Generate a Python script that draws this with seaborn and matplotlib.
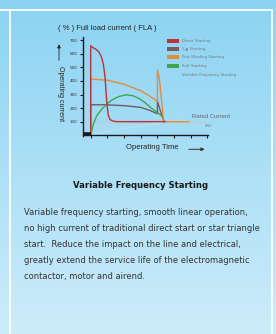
import numpy as np
import pandas as pd
import seaborn as sns
import matplotlib.pyplot as plt
from matplotlib.patches import Rectangle, FancyArrowPatch
from matplotlib.lines import Line2D

W, H = 276, 334
NARROW = ['Liberation Sans', 'DejaVu Sans']

# --- data (time in arbitrary units, current in % FLA) ---
rated_t = [0, 7.03]
rated_i = [100, 100]

vf_t = [0, 1, 2, 3, 4, 4.5, 5, 5.5, 5.9]
vf_i = [0, 28, 50, 70, 88, 100, 108, 110, 100]

star_delta_t = [0, 0, 1, 2, 3, 3.56, 4.0, 4.0, 4.2, 4.4]
star_delta_i = [0, 225, 224, 218, 205, 182, 158, 252, 170, 100]

soft_t = [0, 0.16, 0.36, 0.66, 0.96, 1.26, 1.66, 2.16, 2.56, 2.96, 3.26, 3.56, 3.8, 4.0, 4.2, 4.36]
soft_i = [0, 83, 143, 192, 229, 258, 285, 298, 290, 266, 240, 207, 185, 168, 148, 125]

part_t = [0, 0, 1, 2, 3, 3.56, 4.0, 4.0, 4.12, 4.22, 4.3, 4.36, 5.0, 5.9]
part_i = [0, 415, 406, 376, 328, 287, 248, 482, 411, 290, 195, 100, 100, 100]

direct_t = [0, 0, 0.16, 0.36, 0.5, 0.66, 0.76, 0.86, 0.92, 0.98, 1.06, 1.16, 1.36, 1.6, 2.5, 3.5, 4.46]
direct_i = [0, 660, 645, 630, 612, 572, 522, 428, 318, 218, 145, 115, 103, 100, 100, 100, 100]

idle_t = [-0.48, 0]
idle_i = [9, 9]

legend_labels = ['Direct Starting', 'Y-▲ Starting', 'Part Winding Starting',
                 'Soft Starting', 'Variable Frequency Starting']
colors = {'rated': '#c3ccd1', 'vf': '#b3e4f6', 'star_delta': '#765a60',
          'soft': '#3ea64f', 'part': '#e28c3c', 'direct': '#b8333a'}

series = [('rated', rated_t, rated_i), ('vf', vf_t, vf_i),
          ('star_delta', star_delta_t, star_delta_i), ('soft', soft_t, soft_i),
          ('part', part_t, part_i), ('direct', direct_t, direct_i)]
df = pd.concat([pd.DataFrame({'t': t, 'current': i, 'mode': m}) for m, t, i in series],
               ignore_index=True)


def fx(x):
    return x / W


def fy(y):
    return 1 - y / H


fig = plt.figure(figsize=(W / 100, H / 100), dpi=100)

# background gradient + white frame
bg = fig.add_axes([0, 0, 1, 1], zorder=-10)
grad = np.linspace(0, 1, 256)[:, None]
top = np.array([139, 211, 242]) / 255
bot = np.array([205, 236, 250]) / 255
img = top + (bot - top) * grad[..., None]
bg.imshow(np.repeat(img, 2, axis=1), aspect='auto', extent=[0, 1, 0, 1])
bg.axis('off')
fig.add_artist(Rectangle((fx(10), fy(340)), fx(262), (330) / H, transform=fig.transFigure,
                         fill=False, ec='white', lw=1.3))
fig.add_artist(Line2D([0, fx(10)], [fy(10), fy(10)], transform=fig.transFigure, color='white', lw=1.3))

ax = fig.add_axes([fx(82.7), fy(136.4), (208 - 82.7) / W, (136.4 - 36.7) / H])
ax.patch.set_alpha(0)
sns.lineplot(data=df, x='t', y='current', hue='mode', palette=colors, sort=False,
             estimator=None, legend=False, lw=1.0, ax=ax)
ax.plot(idle_t, idle_i, color='#1a1a1a', lw=2.6, solid_capstyle='butt')

ax.set_xlim(-0.48, 7.03)
ax.set_ylim(-9, 727)
ax.spines['bottom'].set_position(('data', 0))
for s in ['top', 'right']:
    ax.spines[s].set_visible(False)
for s in ['left', 'bottom']:
    ax.spines[s].set_color('#1a1a1a')
    ax.spines[s].set_linewidth(1.0)
ax.set_xticks(range(8))
ax.set_xticklabels([])
ax.set_yticks(range(100, 800, 100))
ax.tick_params(axis='both', length=2.5, width=0.8, color='#1a1a1a', labelsize=3.0,
               pad=1.5, labelcolor='#333333')
ax.set_xlabel('')
ax.set_ylabel('')

fig.text(fx(58), fy(28), '( % ) Full load current ( FLA )', fontsize=5.5, va='center',
         color='#222222', family=NARROW)
fig.text(fx(60), fy(94), 'Operating current', rotation=-90, ha='center', va='center',
         fontsize=5.0, color='#222222', family=NARROW)
fig.add_artist(FancyArrowPatch((fx(59), fy(63)), (fx(59), fy(41.5)), transform=fig.transFigure,
                               arrowstyle='-|>,head_length=2,head_width=1', lw=0.6, color='#222222'))
fig.text(fx(125.7), fy(147.7), 'Operating Time', fontsize=5.5, va='center', color='#222222',
         family=NARROW)
fig.add_artist(FancyArrowPatch((fx(186), fy(149.3)), (fx(207.5), fy(149.3)), transform=fig.transFigure,
                               arrowstyle='-|>,head_length=2,head_width=1', lw=0.7, color='#333333'))
fig.text(fx(191.7), fy(116), 'Rated Current', fontsize=4.3, va='center', color='#666666',
         family=NARROW)
fig.text(fx(205), fy(125.7), '(%)', fontsize=3, va='center', color='#666666')

# legend
leg_y = [40.7, 49, 57.3, 66]
for (m, lab, yy) in zip(['direct', 'star_delta', 'part', 'soft'], legend_labels, leg_y):
    fig.add_artist(Rectangle((fx(167), fy(yy + 2)), 11.7 / W, 4 / H, transform=fig.transFigure,
                             color=colors[m], lw=0))
    fig.text(fx(182), fy(yy), lab, fontsize=2.8, va='center', color='#777777')
fig.text(fx(182), fy(75), legend_labels[4], fontsize=2.8, va='center', color='#777777')

fig.text(fx(141), fy(185), 'Variable Frequency Starting', fontsize=6.1, fontweight='bold',
         ha='center', va='center', color='#1a1a1a')
para = ['Variable frequency starting, smooth linear operation,',
        'no high current of traditional direct start or star triangle',
        'start.  Reduce the impact on the line and electrical,',
        'greatly extend the service life of the electromagnetic',
        'contactor, motor and airend.']
for k, line in enumerate(para):
    fig.text(fx(24), fy(212.3 + 16 * k), line, fontsize=6.0, va='center', color='#333333')

fig.savefig('out.png', dpi=100)
